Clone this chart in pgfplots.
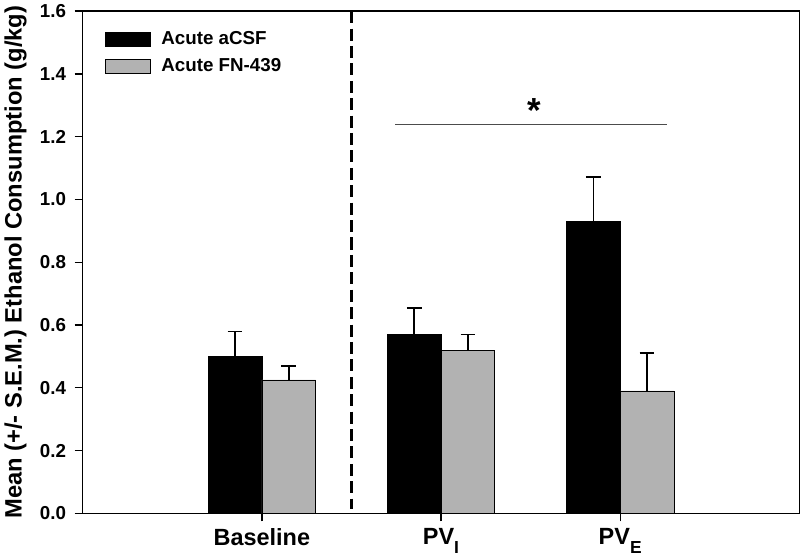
\documentclass[border=0pt]{standalone}
\usepackage{fontspec}
\setmainfont{Liberation Sans}
\usepackage{pgfplots}
\pgfplotsset{compat=1.18}
\definecolor{barGray}{RGB}{178,178,178}
\newcommand{\sub}[1]{\raisebox{-6.5pt}{\fontsize{13}{13}\selectfont #1}}

\begin{document}
\begin{tikzpicture}
\begin{axis}[
    scale only axis,
    width=535pt, height=375pt,
    xmin=0, xmax=4, ymin=0, ymax=1.6,
    ybar,
    bar width=0.3,
    ytick={0,0.2,0.4,0.6,0.8,1.0,1.2,1.4,1.6},
    xtick={1,2,3},
    xticklabels={Baseline, PV\sub{I}, PV\sub{E}},
    tick align=outside,
    xtick pos=bottom, ytick pos=left,
    major tick length=6pt,
    axis line style={line width=1pt},
    tick style={line width=1pt, black},
    y tick label style={font=\fontsize{14}{16}\selectfont\bfseries, xshift=-3pt,
        /pgf/number format/.cd, fixed, fixed zerofill, precision=1, assume math mode=true},
    x tick label style={font=\fontsize{17.5}{19}\selectfont\bfseries, yshift=-2pt},
    ylabel={Mean (+/- S.E.M.) Ethanol Consumption (g/kg)},
    ylabel style={font=\fontsize{17.7}{19}\selectfont\bfseries, yshift=3pt},
    legend style={at={(0.03,0.965)}, anchor=north west, draw=none, fill=none,
        inner sep=0pt,
        font=\fontsize{14}{16}\selectfont\bfseries, row sep=5pt,
        legend cell align=left,
        /tikz/every odd column/.append style={column sep=6pt}},
    legend image code/.code={\draw[#1, line width=0.5pt] (0pt,-5.2pt) rectangle (34pt,5.2pt);},
]
\addplot[bar shift=-0.15, fill=black, draw=black,
    error bars/.cd, y dir=plus, y explicit,
    error bar style={line width=1.2pt, black},
    error mark options={rotate=90, mark size=5.5pt, line width=1.2pt, black}]
coordinates {
    (1,0.50) +- (0,0.08)
    (2,0.57) +- (0,0.085)
    (3,0.929) +- (0,0.143)
};
\addplot[bar shift=0.15, fill=barGray, draw=black, line width=0.5pt,
    error bars/.cd, y dir=plus, y explicit,
    error bar style={line width=1.2pt, black},
    error mark options={rotate=90, mark size=5.5pt, line width=1.2pt, black}]
coordinates {
    (1,0.425) +- (0,0.045)
    (2,0.52) +- (0,0.05)
    (3,0.39) +- (0,0.12)
};
\legend{Acute aCSF, Acute FN-439}
% divider between baseline and post-vapour
\draw[line width=2.2pt, dash pattern=on 9pt off 4pt] (axis cs:1.5,1.6) -- (axis cs:1.5,0.015);
% significance bracket
\draw[black!70, line width=0.8pt] (axis cs:1.745,1.24) -- (axis cs:3.26,1.24);
\node[font=\fontsize{26}{26}\selectfont\bfseries, anchor=south, inner sep=0pt] at (axis cs:2.52,1.245) {*};
\end{axis}
\end{tikzpicture}
\end{document}
